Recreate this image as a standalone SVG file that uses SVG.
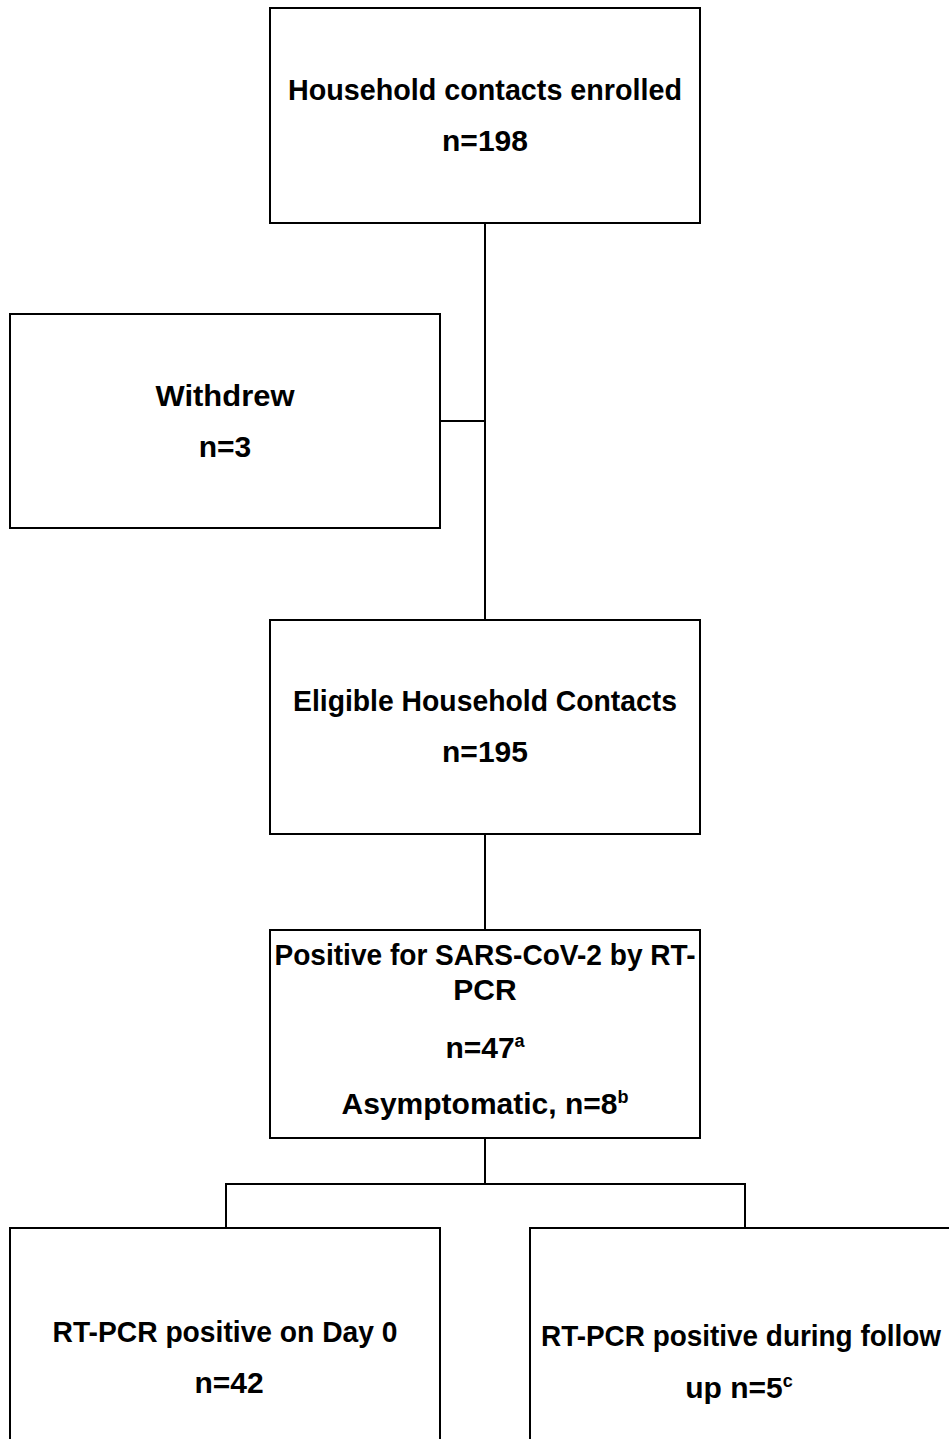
<svg xmlns="http://www.w3.org/2000/svg" width="949" height="1439" viewBox="0 0 949 1439">
<style>
.box{fill:#fff;stroke:#000;stroke-width:2}
.ln{fill:none;stroke:#000;stroke-width:2}
text{font-family:"Liberation Sans",Arial,sans-serif;font-weight:bold;font-size:30px;fill:#000;text-anchor:middle}
.sup{font-size:18px}
</style>
<rect width="949" height="1439" fill="#fff"/>
<g id="connectors">
<path class="ln" d="M485 223V620M440 421H485M485 834V930M485 1138V1184M226 1228V1184H745V1228"/>
</g>
<g id="enrolled">
<rect class="box" x="270" y="8" width="430" height="215"/>
<text x="485" y="100" textLength="394" lengthAdjust="spacingAndGlyphs">Household contacts enrolled</text>
<text x="485" y="151">n=198</text>
</g>
<g id="withdrew">
<rect class="box" x="10" y="314" width="430" height="214"/>
<text x="225" y="406" textLength="139" lengthAdjust="spacingAndGlyphs">Withdrew</text>
<text x="225" y="457">n=3</text>
</g>
<g id="eligible">
<rect class="box" x="270" y="620" width="430" height="214"/>
<text x="485" y="711" textLength="384" lengthAdjust="spacingAndGlyphs">Eligible Household Contacts</text>
<text x="485" y="762">n=195</text>
</g>
<g id="positive">
<rect class="box" x="270" y="930" width="430" height="208"/>
<text x="485" y="965" textLength="421" lengthAdjust="spacingAndGlyphs">Positive for SARS-CoV-2 by RT-</text>
<text x="485" y="1000">PCR</text>
<text x="485" y="1058">n=47<tspan class="sup" dy="-11">a</tspan></text>
<text x="485" y="1114">Asymptomatic, n=8<tspan class="sup" dy="-11">b</tspan></text>
</g>
<g id="day0">
<rect class="box" x="10" y="1228" width="430" height="220"/>
<text x="225" y="1342" textLength="345" lengthAdjust="spacingAndGlyphs">RT-PCR positive on Day 0</text>
<text x="229" y="1393">n=42</text>
</g>
<g id="followup">
<rect class="box" x="530" y="1228" width="430" height="220"/>
<text x="741" y="1346" textLength="400" lengthAdjust="spacingAndGlyphs">RT-PCR positive during follow</text>
<text x="739" y="1398">up n=5<tspan class="sup" dy="-11">c</tspan></text>
</g>
</svg>
